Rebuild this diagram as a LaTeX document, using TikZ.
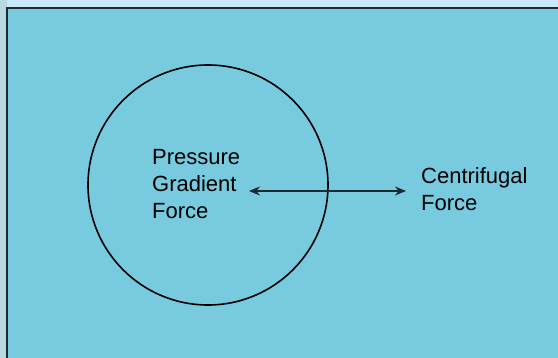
\documentclass[tikz,border=0pt]{standalone}
\usepackage{fontspec}
\setmainfont{Liberation Sans}
\usetikzlibrary{arrows.meta,positioning}
\definecolor{sky}{HTML}{78CADF}
\definecolor{haze}{HTML}{C8E9F7}
\definecolor{mist}{HTML}{BAD8DF}
\definecolor{ink}{HTML}{1E2A30}

\begin{document}
\begin{tikzpicture}[
  x=1pt,y=-1pt,
  >={Stealth[length=11pt,width=9pt]},
  label/.style={align=left,inner sep=0pt,anchor=west,
                font=\fontsize{22}{27}\selectfont},
  force/.style={<->,line width=1.1pt,ink}
]
\useasboundingbox (0,0) rectangle (558,358);
% backdrop
\fill[haze] (0,0) rectangle (558,358);
\fill[mist] (0,0) rectangle (7,358);
\fill[sky] (7,8) rectangle (558,358);
\draw[ink,line width=1.5pt] (7,358) -- (7,8) -- (558,8);

\node[circle,draw,line width=1.6pt,minimum size=240pt,inner sep=0pt] (parcel) at (208,185) {};
\node[label] (pgf) at (152,184) {Pressure\\Gradient\\Force};
\node[label] (cf) at (421,189) {Centrifugal\\Force};

\coordinate (inner) at (249,191);
\coordinate (outer) at (406,191);
\draw[force] (inner) -- (outer);
\end{tikzpicture}
\end{document}
